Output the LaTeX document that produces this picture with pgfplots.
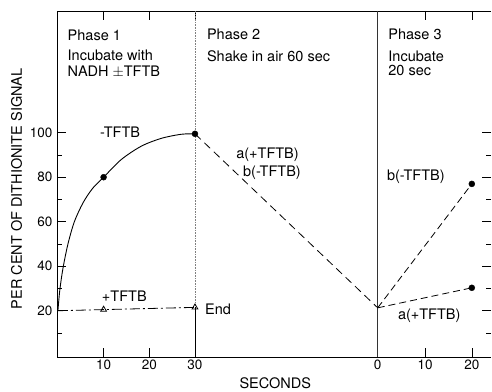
\documentclass[border=0pt]{standalone}
\usepackage{fontspec}
\setmainfont{TeX Gyre Heros}
\usepackage{pgfplots}
\pgfplotsset{compat=1.18}
\begin{document}
\begin{tikzpicture}
\def\tf{\fontsize{14.5}{16}\selectfont}
\begin{axis}[
  name=ax,
  scale only axis,
  width=434pt, height=346pt,
  xmin=-0.2, xmax=94.8,
  ymin=-0.8, ymax=154.7,
  axis line style={draw=none},
  xtick={10,20,30,70,80.4,90.6},
  xticklabels={10,20,30,0,10,20},
  ytick={20,40,60,80,100},
  minor ytick={10,30,50,70,90},
  major tick length=9pt,
  minor tick length=5pt,
  tick style={black, line width=0.6pt},
  /pgf/number format/assume math mode=true,
  ticklabel style={font=\fontsize{13.5}{15}\selectfont},
  yticklabel style={xshift=-1pt},
  xticklabel style={yshift=1pt},
  clip=false,
]
% axis frame without right side
\draw[line width=0.8pt] (rel axis cs:1,1) -- (rel axis cs:0,1) -- (rel axis cs:0,0) -- (rel axis cs:1,0);
% phase dividers
\addplot[gray, line width=0.6pt, densely dotted] coordinates {(30,-0.8) (30,154.7)};
\addplot[black, line width=0.7pt] coordinates {(30,-0.8) (30,21.5)};
\addplot[black!80, line width=0.5pt] coordinates {(70,-0.8) (70,154.7)};
% -TFTB curve
\addplot[black, line width=0.9pt, smooth] coordinates {
 (0,20) (0.4,29) (1.1,39) (2.2,50) (3.6,60) (5.5,68.5) (7.6,75) (10,80)
 (13.9,88) (18.3,94) (22.7,97.5) (27,99.3) (30,99.5)};
\addplot[only marks, mark=*, mark size=3pt, black] coordinates {(10,80) (30,99.5)};
% +TFTB
\addplot[black, line width=0.8pt, dash pattern=on 10pt off 3pt on 2pt off 3pt,
  mark=triangle, mark size=3.4pt, mark options={solid, fill=white}, mark indices={2,3}]
  coordinates {(0,20) (10,20.5) (30,21.5)};
% Phase 2
\addplot[black, line width=0.8pt, dash pattern=on 8pt off 5pt] coordinates {(30,99.5) (70,21.3)};
% Phase 3
\addplot[black, line width=0.8pt, dash pattern=on 7pt off 4pt] coordinates {(70,21.3) (90.6,77)};
\addplot[black, line width=0.8pt, dash pattern=on 7pt off 4pt] coordinates {(70,21.3) (90.6,30.3)};
\addplot[only marks, mark=*, mark size=3pt, black] coordinates {(90.6,77) (90.6,30.3)};
% texts
\node[anchor=west, inner sep=0pt, font=\tf] at (axis cs:2.1,143.9) {Phase 1};
\node[anchor=base west, inner sep=0pt, align=left, font=\fontsize{14.5}{15.7}\selectfont] at (axis cs:2.1,125.2) {Incubate with\\NADH $\pm$TFTB};
\node[anchor=west, inner sep=0pt, font=\tf] at (axis cs:32.6,144.2) {Phase 2};
\node[anchor=west, inner sep=0pt, font=\tf] at (axis cs:32.6,134.5) {Shake in air 60 sec};
\node[anchor=west, inner sep=0pt, font=\tf] at (axis cs:72.3,144.2) {Phase 3};
\node[anchor=base west, inner sep=0pt, align=left, font=\fontsize{14.5}{14.7}\selectfont] at (axis cs:72.3,125.6) {Incubate\\20 sec};
\node[anchor=west, inner sep=0pt, font=\tf] at (axis cs:9.2,100.4) {-TFTB};
\node[anchor=west, inner sep=0pt, font=\tf] at (axis cs:9.6,26.6) {+TFTB};
\node[anchor=west, inner sep=0pt, font=\tf] at (axis cs:32.2,20.5) {End};
\node[anchor=west, inner sep=0pt, font=\tf] at (axis cs:39.0,90.0) {a(+TFTB)};
\node[anchor=west, inner sep=0pt, font=\tf] at (axis cs:40.5,81.9) {b(-TFTB)};
\node[anchor=west, inner sep=0pt, font=\tf] at (axis cs:72.0,80.1) {b(-TFTB)};
\node[anchor=west, inner sep=0pt, font=\tf] at (axis cs:74.4,17.6) {a(+TFTB)};
\path (rel axis cs:0,0.486) ++(-40.3pt,0pt) node[rotate=90, inner sep=0pt, font=\tf] {PER CENT OF DITHIONITE SIGNAL};
\path (rel axis cs:0.503,0) ++(0pt,-26.5pt) node[inner sep=0pt, font=\tf] {SECONDS};
\end{axis}
\pgfresetboundingbox
\path (ax.south west) ++(-57pt,-34pt) coordinate (bl);
\path (ax.north east) ++(1pt,11pt) coordinate (tr);
\useasboundingbox (bl) rectangle (tr);
\end{tikzpicture}
\end{document}
